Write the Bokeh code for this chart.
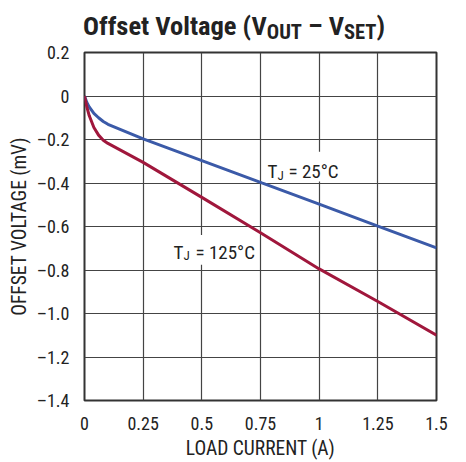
from bokeh.plotting import figure
from bokeh.models import Label, BoxAnnotation, FixedTicker, Div
from bokeh.layouts import column
from bokeh.embed import file_html
from bokeh.resources import INLINE

# ---- data ----
current = [0, 0.01, 0.02, 0.04, 0.06, 0.08, 0.1, 0.25, 0.5, 0.75, 1.0, 1.25, 1.5]
v_25c = [0, -0.03, -0.05, -0.08, -0.10, -0.117, -0.13, -0.197, -0.297, -0.397, -0.497, -0.598, -0.698]
v_125c = [0, -0.05, -0.09, -0.145, -0.18, -0.203, -0.218, -0.305, -0.466, -0.629, -0.795, -0.945, -1.10]
x_ticks = [0, 0.25, 0.5, 0.75, 1.0, 1.25, 1.5]
x_tick_labels = ["0", "0.25", "0.5", "0.75", "1", "1.25", "1.5"]
y_ticks = [0.2, 0, -0.2, -0.4, -0.6, -0.8, -1.0, -1.2, -1.4]
y_tick_labels = ["0.2", "0", "\u20130.2", "\u20130.4", "\u20130.6", "\u20130.8", "\u20131.0", "\u20131.2", "\u20131.4"]

FONT = "Roboto Condensed"
TXT = "#222222"
BLUE = "#3b5aa8"
RED = "#a0173c"

DIV_H = 40
W, H = 466, 462 - DIV_H
X0, X1, Y0, Y1 = 0, 1.5, -1.4, 0.2
FL, FR, FT, FB = 84, 436, 52, 403   # frame edges on the page

title = Div(
    text=('<div style="font-family:\'Roboto Condensed\'; font-weight:bold; font-size:26.5px; '
          'color:#222; white-space:nowrap; line-height:26px; padding-top:13px; padding-left:83px;">'
          'Offset Voltage (V<span style="font-size:20.5px; position:relative; top:4px;">OUT</span>'
          ' \u2013 V<span style="font-size:20.5px; position:relative; top:4px;">SET</span>)</div>'),
    width=W, height=DIV_H, margin=0)

p = figure(width=W, height=H, x_range=(X0, X1), y_range=(Y0, Y1),
           output_backend="svg", toolbar_location=None,
           min_border_left=FL, min_border_right=W - FR,
           min_border_top=FT - DIV_H, min_border_bottom=462 - FB, margin=0)
p.background_fill_color = "white"
p.border_fill_color = "white"
p.outline_line_color = "#333333"
p.outline_line_width = 2

for ax in (p.xaxis[0], p.yaxis[0]):
    ax.axis_line_color = None
    ax.major_tick_line_color = None
    ax.minor_tick_line_color = None
    ax.major_label_text_font = FONT
    ax.major_label_text_font_size = "18px"
    ax.major_label_text_color = TXT
    ax.axis_label_text_font = FONT
    ax.axis_label_text_font_size = "19.5px"
    ax.axis_label_text_font_style = "normal"
    ax.axis_label_text_color = TXT

p.xaxis.ticker = FixedTicker(ticks=x_ticks)
p.xaxis.major_label_overrides = dict(zip(x_ticks, x_tick_labels))
p.yaxis.ticker = FixedTicker(ticks=y_ticks)
p.yaxis.major_label_overrides = dict(zip(y_ticks, y_tick_labels))
p.xaxis.axis_label = "LOAD CURRENT (A)"
p.yaxis.axis_label = "OFFSET VOLTAGE (mV)"
p.xaxis.major_label_standoff = 10
p.xaxis.axis_label_standoff = 4
p.yaxis.major_label_standoff = 9
p.yaxis.axis_label_standoff = 3

p.grid.grid_line_color = "#444444"
p.grid.grid_line_width = 1.2

p.line(current, v_25c, line_color=BLUE, line_width=3)
p.line(current, v_125c, line_color=RED, line_width=3)

# helpers: page pixel -> data
def dx(px):
    return X0 + (px - FL) * (X1 - X0) / (FR - FL)

def dy(py):
    return Y1 - (py - FT) * (Y1 - Y0) / (FB - FT)

# white label boxes
p.add_layout(BoxAnnotation(left=dx(262), right=dx(346), top=dy(152), bottom=dy(182),
                           fill_color="white", fill_alpha=1, line_color=None))
p.add_layout(BoxAnnotation(left=dx(168), right=dx(257), top=dy(236), bottom=dy(266),
                           fill_color="white", fill_alpha=1, line_color=None))

def txt(s, px, py, size):
    p.add_layout(Label(x=dx(px), y=dy(py), text=s, text_font=FONT, text_font_size=size,
                       text_color=TXT, text_align="left", text_baseline="alphabetic"))

# curve labels
txt("T", 267, 172.5, "19px")
txt("J", 277, 176, "13px")
txt("= 25\u00b0C", 288, 172.5, "19px")
txt("T", 173, 253.5, "19px")
txt("J", 183, 257, "13px")
txt("= 125\u00b0C", 195, 253.5, "19px")

layout = column(title, p, spacing=0, margin=0)
open("out.html", "w").write(file_html(layout, INLINE))
